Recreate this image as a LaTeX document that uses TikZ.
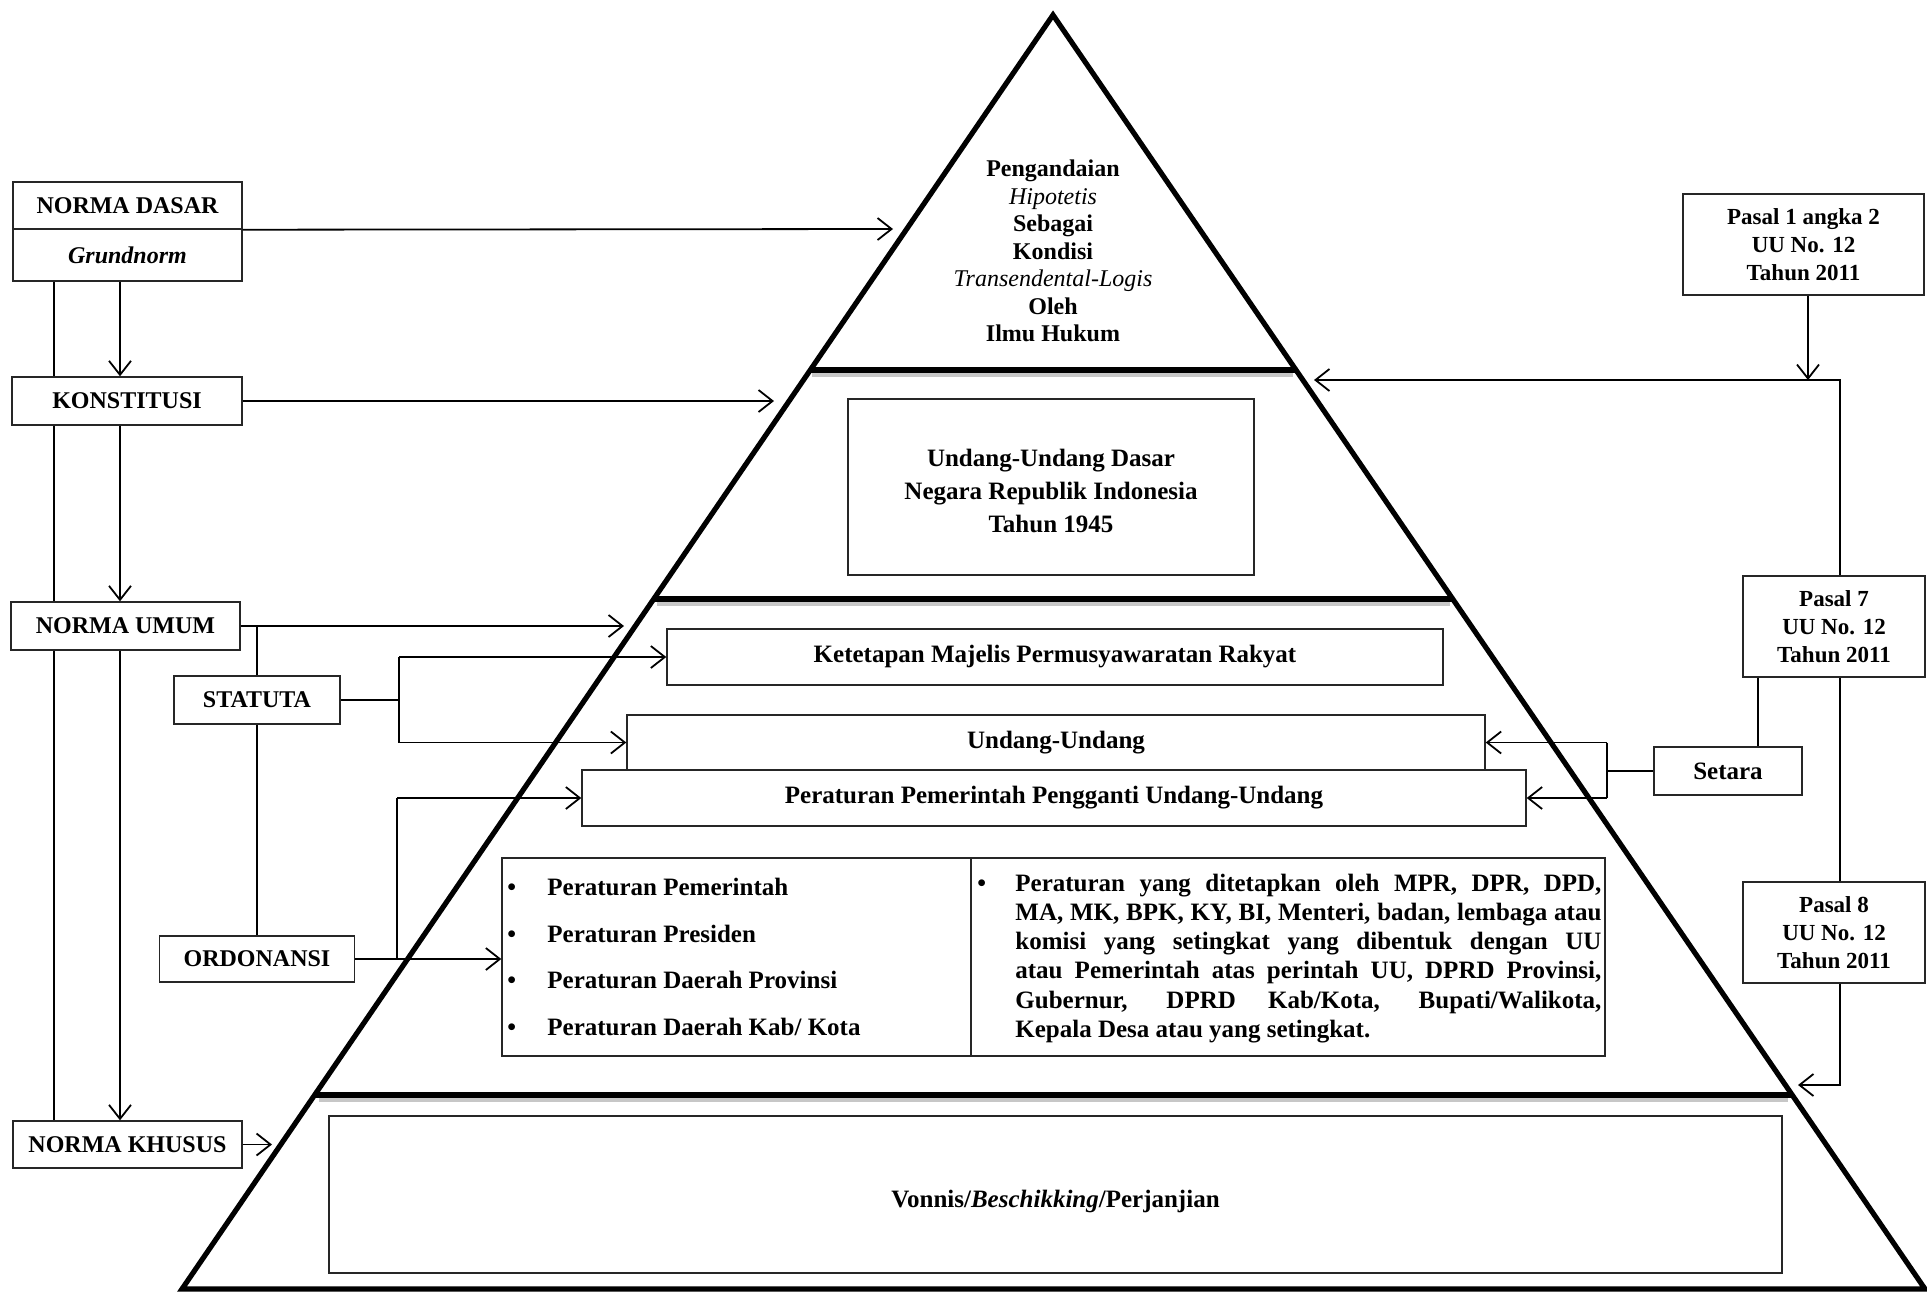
\documentclass[tikz,border=0pt]{standalone}
\usepackage{fontspec}
\setmainfont{Liberation Serif}
\usetikzlibrary{arrows.meta,calc}
\begin{document}
\begin{tikzpicture}[x=0.5pt,y=-0.5pt,
  bx/.style n args={2}{draw=black!85, line width=0.7pt, inner sep=0pt,
    minimum width=#1*0.5pt, minimum height=#2*0.5pt,
    font=\bfseries\fontsize{12}{14}\selectfont, align=center},
  pasal/.style={font=\bfseries\fontsize{11.5}{14}\selectfont},
  mid/.style={font=\bfseries\fontsize{12.5}{15}\selectfont},
  ln/.style={line width=0.9pt},
  arr/.style={line width=0.9pt, -{Straight Barb[length=7pt,width=11pt,line width=0.9pt]}},
  pyr/.style={line width=2.6pt, line join=miter},
  band/.style={line width=3.4pt},
  shade/.style={line width=2pt, black!22},
]
\useasboundingbox (0,0) rectangle (1927,1292);
\fill[white] (0,0) rectangle (1927,1292);

% pyramid
\coordinate (apex) at (1053,15);
\coordinate (bl) at (182,1289);
\coordinate (br) at (1925,1289);
\draw[shade] (812,375) -- (1293,375);
\draw[shade] (657,604) -- (1450,604);
\draw[shade] (319,1100) -- (1788,1100);
\draw[band] (810.3,370) -- (1296,370);
\draw[band] (653.7,599) -- (1452.7,599);
\draw[band] (314.6,1095) -- (1792.2,1095);
\draw[pyr] (apex) -- (bl) -- (br) -- cycle;

% top text
\node[font=\bfseries\fontsize{12}{13.75}\selectfont, align=center] (toptext) at (1053,251)
  {Pengandaian\\{\mdseries\itshape Hipotetis}\\Sebagai\\Kondisi\\{\mdseries\itshape Transendental-Logis}\\Oleh\\Ilmu Hukum};

% pyramid boxes
\node[bx={406}{176}] (uud) at (1051,487) {};
\node[font=\bfseries\fontsize{12.5}{16.5}\selectfont, align=center] (uudtext) at (1051,491)
  {Undang-Undang Dasar\\Negara Republik Indonesia\\Tahun 1945};
\node[bx={776}{56}, mid] (tap) at (1055,657) {Ketetapan Majelis Permusyawaratan Rakyat};
\node[bx={858}{55}, mid] (uu) at (1056,742.5) {Undang-Undang};
\node[bx={944}{56}, mid] (perpu) at (1054,798) {Peraturan Pemerintah Pengganti Undang-Undang};
\node[bx={469}{198}] (lbox) at (736.5,957) {};
\node[bx={634}{198}] (rbox) at (1288,957) {};
\node[bx={1453}{157}] (vbox) at (1055.5,1194.5) {};
\node[mid] (vtext) at (1055.5,1201) {Vonnis/\textit{Beschikking}/Perjanjian};

\node[anchor=west, inner sep=0pt, align=left, font=\bfseries\fontsize{12.5}{23.3}\selectfont] (ltext) at (507,957)
  {\makebox[20pt][l]{\textbullet}Peraturan Pemerintah\\
   \makebox[20pt][l]{\textbullet}Peraturan Presiden\\
   \makebox[20pt][l]{\textbullet}Peraturan Daerah Provinsi\\
   \makebox[20pt][l]{\textbullet}Peraturan Daerah Kab/ Kota};

\node[anchor=base west, inner sep=0pt, font=\bfseries\fontsize{12.5}{14.65}\selectfont] (rtext) at (977,891)
  {\makebox[19pt][l]{\textbullet}\parbox[t]{293pt}{%
   \makebox[293pt][s]{Peraturan yang ditetapkan oleh MPR, DPR, DPD,}\\
   \makebox[293pt][s]{MA, MK, BPK, KY, BI, Menteri, badan, lembaga atau}\\
   \makebox[293pt][s]{komisi yang setingkat yang dibentuk dengan UU}\\
   \makebox[293pt][s]{atau Pemerintah atas perintah UU, DPRD Provinsi,}\\
   \makebox[293pt][s]{Gubernur, DPRD Kab/Kota, Bupati/Walikota,}\\
   Kepala Desa atau yang setingkat.}};

% left column boxes
\node[bx={229}{47}] (nd) at (127.5,205.5) {NORMA DASAR};
\node[bx={229}{52}] (gn) at (127.5,255) {\itshape Grundnorm};
\node[bx={230}{48}] (kon) at (127,401) {KONSTITUSI};
\node[bx={229}{48}] (nu) at (125.5,626) {NORMA UMUM};
\node[bx={229}{47}] (nk) at (127.5,1144.5) {NORMA KHUSUS};
\node[bx={166}{48}] (sta) at (257,700) {STATUTA};
\node[bx={195}{46}] (ord) at (257,959) {ORDONANSI};

% right column boxes
\node[bx={241}{101}, pasal] (p1) at (1803.5,244.5) {Pasal 1 angka 2\\UU No. 12\\Tahun 2011};
\node[bx={182}{101}, pasal] (p7) at (1834,626.5) {Pasal 7\\UU No. 12\\Tahun 2011};
\node[bx={182}{101}, pasal] (p8) at (1834,932.5) {Pasal 8\\UU No. 12\\Tahun 2011};
\node[bx={148}{48}, mid] (setara) at (1728,771) {Setara};

% helper coordinates
\coordinate (xa) at (54,0);
\coordinate (xb) at (120,0);
\coordinate (xs) at (399,0);
\coordinate (xo) at (397,0);
\coordinate (xt) at (1607,0);
\coordinate (xq) at (1758,0);
\coordinate (xr) at (1840,0);
\coordinate (xp) at (1808,0);
\coordinate (c1) at (893,229);
\coordinate (c2) at (774,401);
\coordinate (c3) at (624,626);
\coordinate (c8) at (1798,1085);
\coordinate (c9) at (1314,380);
\coordinate (c10) at (272,1144.5);

% left connectors
\draw[ln] (xa |- gn.south) -- (xa |- kon.north);
\draw[arr] (xb |- gn.south) -- (xb |- kon.north);
\draw[ln] (xa |- kon.south) -- (xa |- nu.north);
\draw[arr] (xb |- kon.south) -- (xb |- nu.north);
\draw[ln] (xa |- nu.south) -- (xa |- nk.north);
\draw[arr] (xb |- nu.south) -- (xb |- nk.north);

\draw[arr] (nd.south east) -- (c1);
\draw[arr] (kon.east) -- (c2);
\draw[arr] (nu.east) -- (c3);
\draw[arr] (nk.east) -- (c10);

\draw[ln] (sta.north) -- (sta.north |- nu.east);
\draw[ln] (sta.south) -- (ord.north);

\draw[ln] (sta.east) -- (sta.east -| xs);
\draw[ln] (xs |- tap.west) -- (xs |- uu.west);
\draw[arr] (xs |- tap.west) -- (tap.west);
\draw[arr] (xs |- uu.west) -- (uu.west);

\draw[arr] (ord.east) -- (ord.east -| lbox.west);
\draw[ln] (ord.east -| xo) -- (xo |- perpu.west);
\draw[arr] (xo |- perpu.west) -- (perpu.west);

% right connectors
\draw[ln] (setara.west) -- (setara.west -| xt);
\draw[ln] (xt |- uu.east) -- (xt |- perpu.east);
\draw[arr] (xt |- uu.east) -- (uu.east);
\draw[arr] (xt |- perpu.east) -- (perpu.east);

\draw[ln] (xq |- p7.south) -- (xq |- setara.north);
\draw[ln] (xr |- p7.south) -- (xr |- p8.north);
\draw[arr] (xr |- p8.south) |- (c8);
\draw[arr] (xp |- p1.south) -- (xp |- c9);
\draw[arr] (xr |- p7.north) |- (c9);
\end{tikzpicture}
\end{document}
